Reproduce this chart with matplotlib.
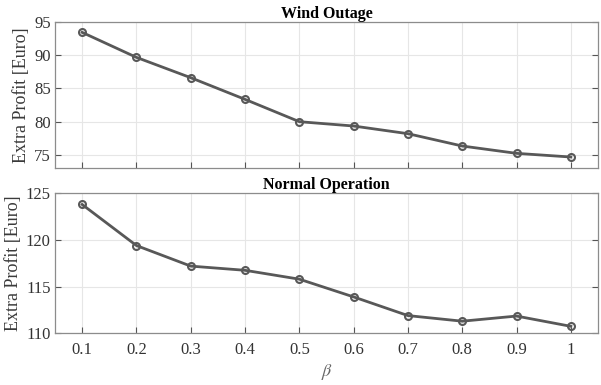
import matplotlib
matplotlib.use('Agg')
import matplotlib.pyplot as plt

# beta sweep and extra profit for the two cases
beta = [0.1, 0.2, 0.3, 0.4, 0.5, 0.6, 0.7, 0.8, 0.9, 1.0]
wind_outage = [93.4, 89.65, 86.6, 83.35, 80.0, 79.35, 78.2, 76.35, 75.25, 74.7]
normal_op = [123.8, 119.4, 117.2, 116.75, 115.8, 113.9, 111.9, 111.3, 111.85, 110.75]
xtick_labels = ['0.1', '0.2', '0.3', '0.4', '0.5', '0.6', '0.7', '0.8', '0.9', '1']

plt.rcParams['font.family'] = ['Liberation Serif', 'DejaVu Serif']
plt.rcParams['mathtext.fontset'] = 'stix'

fig = plt.figure(figsize=(6.01, 3.85), dpi=100)
ax1 = fig.add_axes([0.0915, 0.5636, 0.9035, 0.38])
ax2 = fig.add_axes([0.0915, 0.1342, 0.9035, 0.3638])

line_col = '#585858'


def style(ax):
    ax.grid(True, color='#e6e6e6', linewidth=0.8)
    ax.set_axisbelow(True)
    for s in ax.spines.values():
        s.set_color('#8c8c8c')
        s.set_linewidth(0.9)
    ax.tick_params(direction='in', length=4, color='#555555', labelsize=12,
                   right=True, top=False, labelcolor='#333333', pad=3)
    ax.set_xlim(0.05, 1.05)
    ax.set_xticks(beta)


ax1.plot(beta, wind_outage, '-o', color=line_col, linewidth=2, markersize=5,
         markerfacecolor='none', markeredgewidth=1.5)
style(ax1)
ax1.set_ylim(73.05, 95)
ax1.set_yticks([75, 80, 85, 90, 95])
ax1.set_xticklabels([])
ax1.set_title('Wind Outage', fontsize=11.5, fontweight='bold', pad=2)
ax1.set_ylabel('Extra Profit [Euro]', fontsize=13, color='#3a3a3a', labelpad=3)

ax2.plot(beta, normal_op, '-o', color=line_col, linewidth=2, markersize=5,
         markerfacecolor='none', markeredgewidth=1.5)
style(ax2)
ax2.set_ylim(110, 125)
ax2.set_yticks([110, 115, 120, 125])
ax2.set_xticklabels(xtick_labels)
ax2.tick_params(axis='x', pad=6)
ax2.set_title('Normal Operation', fontsize=11.5, fontweight='bold', pad=2)
ax2.set_ylabel('Extra Profit [Euro]', fontsize=13, color='#3a3a3a', labelpad=3)
ax2.set_xlabel(r'$\beta$', fontsize=13, color='#666666', labelpad=3)

fig.savefig('out.png', dpi=100)
